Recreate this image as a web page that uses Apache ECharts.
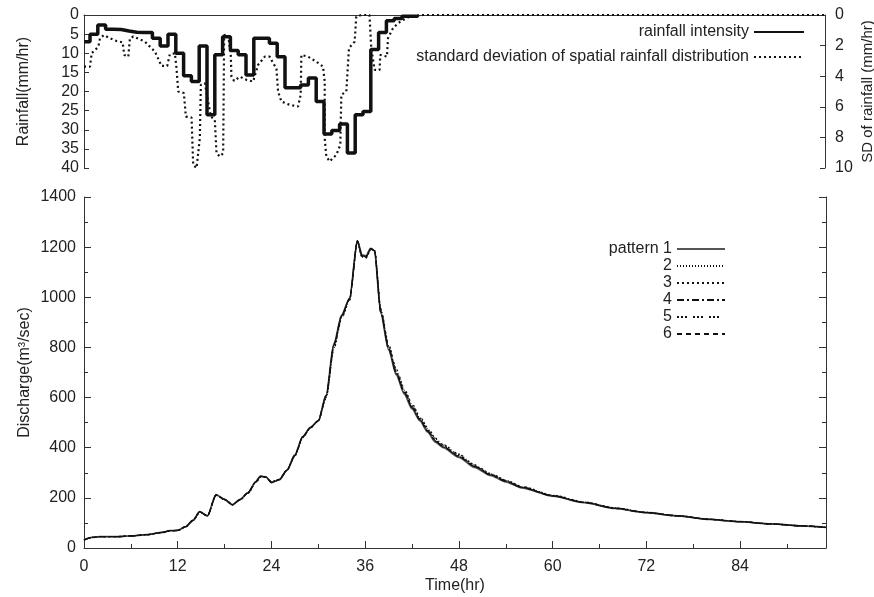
<!DOCTYPE html>
<html><head><meta charset="utf-8">
<script src="https://cdn.jsdelivr.net/npm/echarts@6/dist/echarts.min.js"></script>
<style>html,body{margin:0;padding:0;background:#fff}#c{width:874px;height:597px}</style>
</head><body><div id="c"></div>
<script>
// ---- data ----
const rainIntensity = [7.0,5.0,2.6,3.7,3.8,4.2,4.5,4.6,4.6,6.1,8.1,5.0,10.0,15.9,17.4,8.1,26.1,10.4,5.7,9.3,10.4,15.7,6.1,6.1,7.4,10.9,19.0,19.0,18.3,16.5,22.6,31.1,30.2,28.5,36.1,26.1,25.2,9.0,4.6,1.5,0.9,0.3,0.3,0];
const sdTime  = [0,0.77,0.98,1.84,2.05,2.56,3.33,4.18,4.95,5.16,5.68,5.89,6.32,7.81,9.09,9.94,10.67,11.0,11.65,11.86,12.08,12.8,13.06,13.79,14.0,14.43,14.85,14.98,15.5,15.92,16.26,16.77,16.99,17.41,17.84,17.97,18.48,18.82,18.9,19.25,19.97,20.83,21.68,22.32,23.18,23.8,24.24,24.67,24.88,25.31,26.38,27.44,27.78,27.87,28.72,29.79,30.64,30.86,30.86,31.07,31.5,32.35,32.86,32.99,33.63,33.97,34.7,34.91,35.55,36.6,36.83,37.26,37.9,37.98,38.84,38.97,39.61,40.25,40.89,41.74,42.6,43.5,95];
const sdValue = [3.37,3.37,2.5,2.07,1.52,1.31,1.52,1.70,1.79,2.61,2.72,1.52,1.41,1.74,2.39,3.33,3.33,2.57,2.5,3.48,5.0,5.1,6.64,6.7,9.8,10.0,8.05,4.57,4.46,5.66,6.64,6.85,9.03,9.25,9.03,1.31,1.28,2.61,4.03,4.31,4.03,4.24,4.35,3.26,2.72,2.72,3.15,3.48,5.0,5.66,5.87,5.98,5.22,2.61,2.72,3.05,3.37,4.35,8.05,9.25,9.57,9.14,8.49,5.22,5.0,2.17,1.74,0.11,0,0,2.17,3.59,3.59,2.61,2.72,1.52,0.87,0.54,0.33,0.11,0.05,0,0];

const qTime = [0,1,2,4,6,8,10,11,12,13,14,14.8,15.8,16.9,18,19,20,21,22,22.6,23.3,24,25,26,27,28,29,30,31,32,33,34,35,35.6,36.1,36.7,37.2,38,39,40,41,42,43,44,45,46,48,50,52,54,56,60,64,68,72,76,80,84,88,92,95];
const pattern1 = [32,42,45,45,48,53,62,69,70,85,112,145,128,213,194,172,194,221,265,287,283,261,272,311,371,444,481,508,610,816,930,996,1226,1169,1165,1195,1185,936,790,690,615,555,508,462,422,400,362,322,290,264,240,207,181,158,141,128,114,105,96,88,82];
const pattern2 = [32,42,45,45,48,53,62,69,70,84,110,143,128,210,193,173,193,219,262,285,283,263,273,310,368,440,480,507,600,800,920,990,1222,1160,1158,1192,1188,950,805,705,630,570,520,475,435,410,372,330,296,270,245,210,183,160,142,129,115,105,96,88,82];
const pattern3 = [32,42,45,45,48,53,62,69,70,85,111,144,129,211,194,174,194,220,263,286,284,262,274,312,369,442,481,507,605,808,925,993,1224,1163,1160,1193,1187,945,800,700,625,565,516,470,430,406,368,327,294,268,243,209,182,159,142,129,115,105,96,88,82];
const pattern4 = [32,42,45,45,48,53,62,69,70,85,112,145,128,212,194,172,194,221,265,287,283,261,272,311,371,444,481,508,608,812,928,995,1225,1166,1163,1194,1186,940,795,695,620,560,512,466,426,403,365,325,292,266,242,208,182,158,141,128,114,105,96,88,82];
const pattern5 = [32,42,45,45,48,53,62,69,70,84,110,142,129,209,192,174,192,218,260,283,284,264,274,310,367,440,479,506,598,795,918,988,1220,1158,1155,1190,1188,955,812,712,636,575,525,480,438,412,374,332,298,271,246,211,184,160,143,129,115,105,96,88,82];
const pattern6 = [32,42,45,45,48,53,62,69,70,85,111,144,128,212,194,173,193,220,264,286,283,262,273,311,370,443,480,508,606,810,926,994,1224,1165,1162,1194,1187,942,797,697,622,562,514,468,428,404,366,326,293,267,242,208,182,158,141,128,114,105,96,88,82];
const patternNames = ['pattern 1','2','3','4','5','6'];

// ---- build ----
const FONT = 'Liberation Sans, Arial, sans-serif';
const TXT = '#222';
const AX = '#333';
const xMax = 95;
const stepShift = 0.23;
const rainData = rainIntensity.map((v,k)=>[Math.max(0,k-stepShift), v]);
const sdData = sdTime.map((t,i)=>[t, sdValue[i]]);
const patterns = [pattern1,pattern2,pattern3,pattern4,pattern5,pattern6];
const dashes = ['solid',[1,2],[2,3],[7,3,2,3],[2,2,2,2,2,6],[5,4]];
const pColors = ['#555','#111','#111','#111','#111','#111'];
const plain = v => String(v);

const chart = echarts.init(document.getElementById('c'));
const lab = {fontFamily: FONT, fontSize: 16, color: TXT};

const series = [
  {name:'rainfall intensity', type:'line', xAxisIndex:0, yAxisIndex:0, step:'end', symbol:'none',
   data: rainData, lineStyle:{color:'#111', width:3.5}, itemStyle:{color:'#111'}, z:3},
  {name:'standard deviation of spatial rainfall distribution', type:'line', xAxisIndex:0, yAxisIndex:1, symbol:'none',
   data: sdData, lineStyle:{color:'#111', width:2.2, type:[2,3]}, itemStyle:{color:'#111'}, z:2}
];
patterns.forEach((p,i)=>{
  series.push({name: patternNames[i], type:'line', xAxisIndex:1, yAxisIndex:2, symbol:'none', smooth:0.25, smoothMonotone:'x',
    data: qTime.map((t,j)=>[t,p[j]]), lineStyle:{color:pColors[i], width: i===0?1.8:1.3, type:dashes[i]}, itemStyle:{color:pColors[i]}});
});

const legendBase = {orient:'vertical', align:'right', itemHeight:10, padding:0, itemGap:0,
  textStyle:lab, selectedMode:false, itemStyle:{opacity:0}};
const legends = [];
legends.push(Object.assign({right:69, top:24, itemWidth:50, data:['rainfall intensity']}, legendBase));
legends.push(Object.assign({right:69, top:49, itemWidth:50, data:['standard deviation of spatial rainfall distribution']}, legendBase));
const lgY = [249,266,283,300,317,334];
patternNames.forEach((n,i)=>{
  legends.push(Object.assign({right:148, top:lgY[i]-8, itemWidth:48, data:[n]}, legendBase));
});

const option = {
  animation:false,
  backgroundColor:'#fff',
  grid:[
    {left:84, right:49, top:15, height:153, containLabel:false, outerBoundsMode:'none'},
    {left:84, right:48, top:197, height:351, containLabel:false, outerBoundsMode:'none'}
  ],
  legend: legends,
  xAxis:[
    {gridIndex:0, type:'value', min:0, max:xMax, position:'top',
     axisLine:{show:true, lineStyle:{color:AX, width:1}}, axisTick:{show:false}, axisLabel:{show:false}, splitLine:{show:false}},
    {gridIndex:1, type:'value', min:0, max:xMax, interval:12, name:'Time(hr)', nameLocation:'middle', nameGap:30,
     nameTextStyle:lab, nameMoveOverlap:false,
     axisLine:{show:true, lineStyle:{color:AX, width:1}}, axisTick:{show:true, inside:true, length:7, lineStyle:{color:AX}},
     minorTick:{show:true, splitNumber:2, length:4, lineStyle:{color:AX}},
     axisLabel:Object.assign({margin:11, showMaxLabel:false, formatter:plain}, lab), splitLine:{show:false}}
  ],
  yAxis:[
    {gridIndex:0, type:'value', inverse:true, min:0, max:40, interval:5, name:'Rainfall(mm/hr)', nameLocation:'middle', nameGap:52, nameRotate:90,
     nameTextStyle:lab, nameMoveOverlap:false,
     axisLine:{show:true, lineStyle:{color:AX, width:1}}, axisTick:{show:true, inside:true, length:5, lineStyle:{color:AX}},
     axisLabel:Object.assign({margin:5, formatter:plain}, lab), splitLine:{show:false}},
    {gridIndex:0, type:'value', inverse:true, min:0, max:10, interval:2, position:'right', name:'SD of rainfall (mm/hr)', nameLocation:'middle', nameGap:35, nameRotate:90,
     nameTextStyle:Object.assign({}, lab, {fontSize:15}), nameMoveOverlap:false,
     axisLine:{show:true, lineStyle:{color:AX, width:1}}, axisTick:{show:true, inside:true, length:5, lineStyle:{color:AX}},
     axisLabel:Object.assign({margin:10, formatter:plain}, lab), splitLine:{show:false}},
    {gridIndex:1, type:'value', min:0, max:1400, interval:200, name:'Discharge(m³/sec)', nameLocation:'middle', nameGap:51, nameRotate:90,
     nameTextStyle:lab, nameMoveOverlap:false,
     axisLine:{show:true, lineStyle:{color:AX, width:1}}, axisTick:{show:true, inside:true, length:7, lineStyle:{color:AX}},
     minorTick:{show:true, splitNumber:2, length:4, lineStyle:{color:AX}},
     axisLabel:Object.assign({margin:8, formatter:plain}, lab), splitLine:{show:false}},
    {gridIndex:1, type:'value', min:0, max:1400, interval:200, position:'right',
     axisLine:{show:true, lineStyle:{color:AX, width:1}}, axisTick:{show:true, inside:true, length:7, lineStyle:{color:AX}},
     minorTick:{show:true, splitNumber:2, length:4, lineStyle:{color:AX}},
     axisLabel:{show:false}, splitLine:{show:false}}
  ],
  series: series
};
chart.setOption(option);
</script></body></html>
